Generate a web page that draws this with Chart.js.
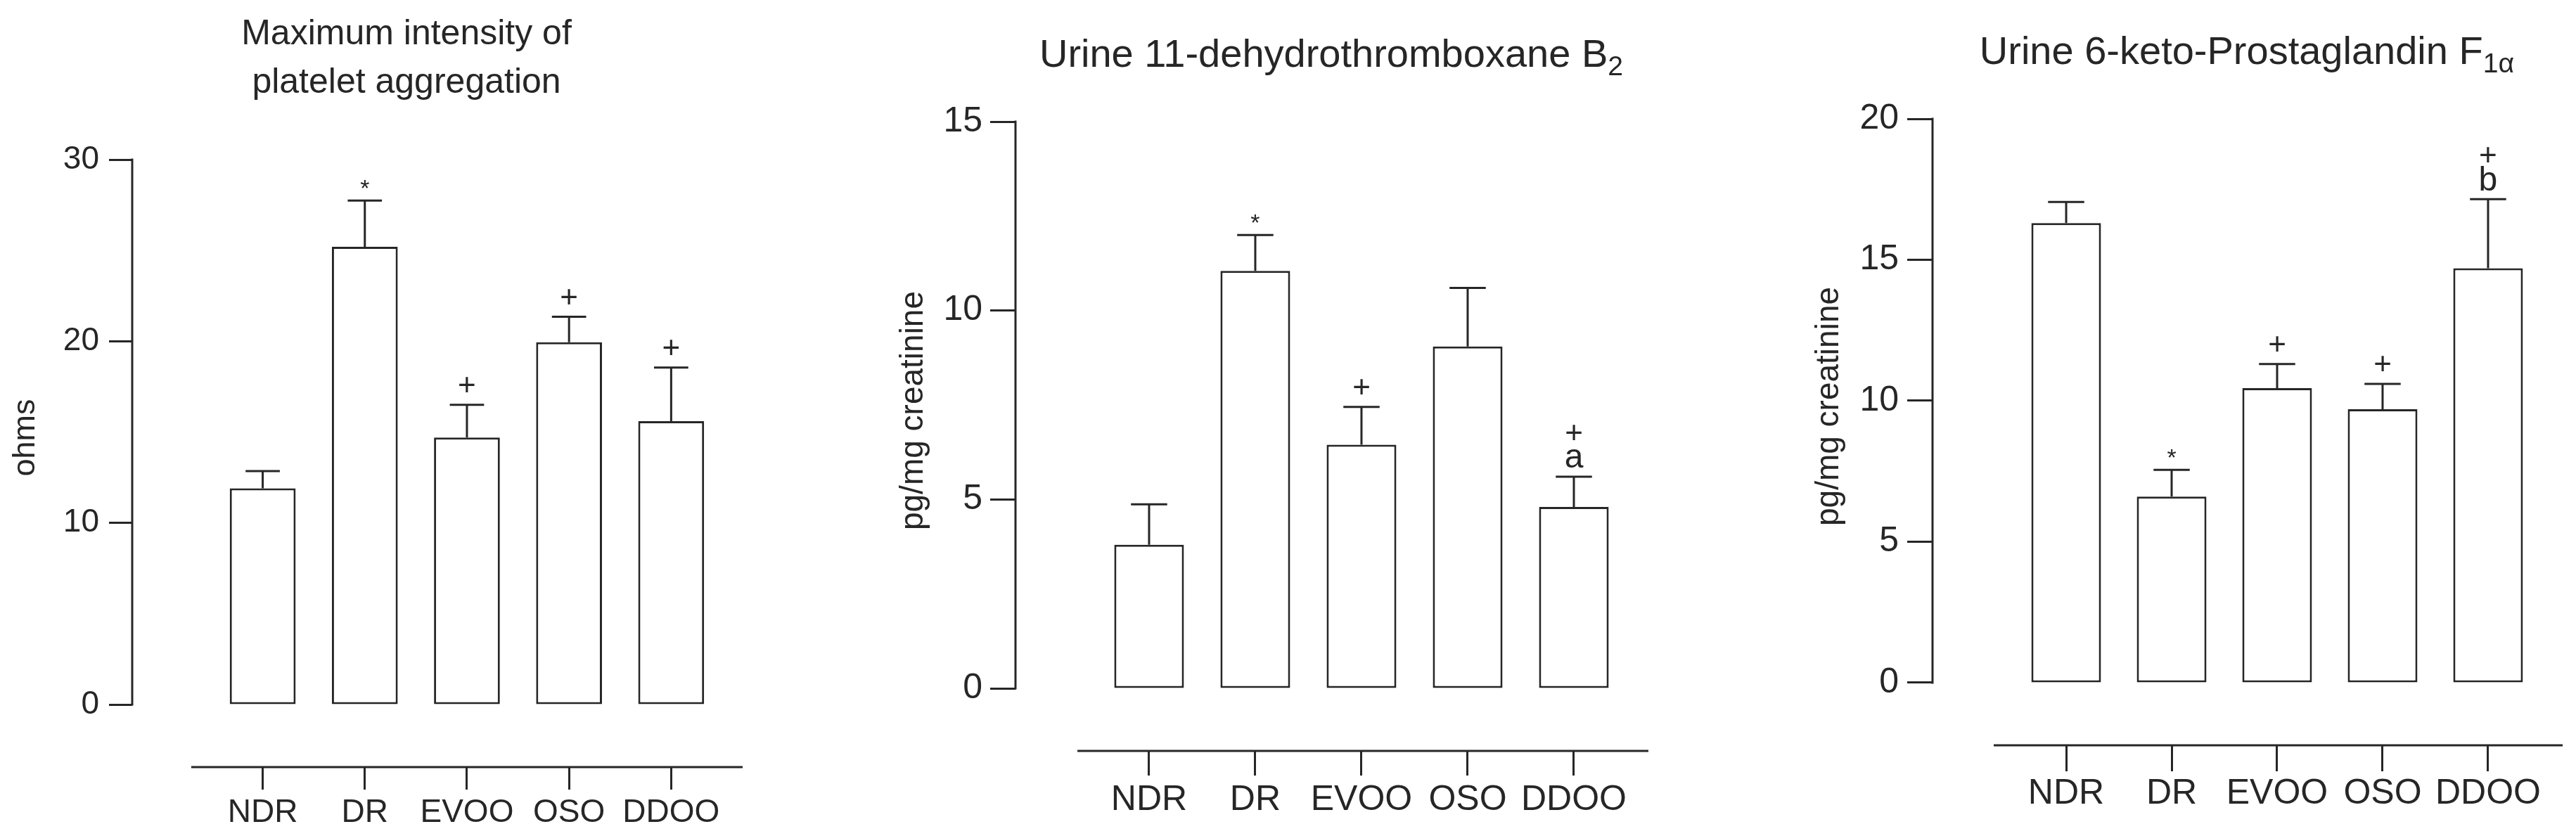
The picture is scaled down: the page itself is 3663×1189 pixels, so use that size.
<!DOCTYPE html>
<html>
<head>
<meta charset="utf-8">
<script src="https://cdn.jsdelivr.net/npm/chart.js@4.4.1/dist/chart.umd.min.js"></script>
<style>
  html, body { margin: 0; padding: 0; background: #fff; }
  #wrap { position: relative; width: 3663px; height: 1189px; }
  .panel { position: absolute; top: 0; width: 1221px; height: 1189px; }
</style>
</head>
<body>
<div id="wrap">
  <div class="panel" style="left:0"><canvas id="c1"></canvas></div>
  <div class="panel" style="left:1221px"><canvas id="c2"></canvas></div>
  <div class="panel" style="left:2442px"><canvas id="c3"></canvas></div>
</div>
<script>
var groups = ['NDR', 'DR', 'EVOO', 'OSO', 'DDOO'];

// maximum intensity of platelet aggregation (ohms)
var aggMean = [11.9, 25.2, 14.7, 19.95, 15.6];
var aggSem = [0.95, 2.55, 1.8, 1.4, 2.95];
var aggMarks = [[], ['*'], ['+'], ['+'], ['+']];
var aggTicks = [0, 10, 20, 30];

// urine 11-dehydrothromboxane B2 (pg/mg creatinine)
var txbMean = [3.8, 11.05, 6.45, 9.05, 4.8];
var txbSem = [1.07, 0.95, 1.0, 1.55, 0.8];
var txbMarks = [[], ['*'], ['+'], [], ['a', '+']];
var txbTicks = [0, 5, 10, 15];

// urine 6-keto-prostaglandin F1alpha (pg/mg creatinine)
var pgiMean = [16.3, 6.6, 10.45, 9.7, 14.7];
var pgiSem = [0.75, 0.95, 0.85, 0.9, 2.45];
var pgiMarks = [[], ['*'], ['+'], ['+'], ['b', '+']];
var pgiTicks = [0, 5, 10, 15, 20];

var ink = '#262626';
var face = "'Liberation Sans', Arial, sans-serif";

// prism-style extras: detached axes, SEM bars, significance marks, titles
var prismPlugin = {
  id: 'prism',
  afterDatasetsDraw: function(chart, args, o) {
    var ctx = chart.ctx, xs = chart.scales.x, ys = chart.scales.y, area = chart.chartArea;
    var meta = chart.getDatasetMeta(0);
    ctx.save();
    ctx.strokeStyle = ink;
    ctx.fillStyle = ink;
    ctx.lineWidth = 3;

    // y axis, only from 0 to the top tick
    ctx.beginPath();
    ctx.moveTo(area.left, ys.getPixelForValue(o.ticks[o.ticks.length - 1]) - 1.5);
    ctx.lineTo(area.left, ys.getPixelForValue(0) + 1.5);
    ctx.stroke();

    // x axis, set below and apart from the y axis
    ctx.beginPath();
    ctx.moveTo(xs.getPixelForValue(o.xStart), area.bottom);
    ctx.lineTo(area.right, area.bottom);
    ctx.stroke();

    o.mean.forEach(function(m, i) {
      var bar = meta.data[i];
      var x = xs.getPixelForValue(i);
      var yb = ys.getPixelForValue(m);
      var yt = ys.getPixelForValue(m + o.sem[i]);
      var cw = bar.width * 0.26;
      ctx.beginPath();
      ctx.moveTo(x, yb);
      ctx.lineTo(x, yt);
      ctx.moveTo(x - cw, yt);
      ctx.lineTo(x + cw, yt);
      ctx.stroke();

      var y = yt - o.markGap;
      o.marks[i].forEach(function(s) {
        var size = s === '*' ? 34 : (s === '+' ? 44 : 48);
        ctx.font = size + 'px ' + face;
        ctx.textAlign = 'center';
        ctx.textBaseline = 'middle';
        ctx.fillText(s, x, y + (s === '*' ? 10 : 0));
        y -= o.markStep;
      });
    });

    // y axis title, centred on the 0..max range
    var ymid = (ys.getPixelForValue(0) + ys.getPixelForValue(o.ticks[o.ticks.length - 1])) / 2 + 8;
    ctx.save();
    ctx.translate(area.left - o.yTitleOff, ymid);
    ctx.rotate(-Math.PI / 2);
    ctx.font = o.yTitleSize + 'px ' + face;
    ctx.textAlign = 'center';
    ctx.textBaseline = 'middle';
    ctx.fillText(o.yTitle, 0, 0);
    ctx.restore();

    // chart title, lines of segments with optional subscript
    ctx.textBaseline = 'alphabetic';
    ctx.textAlign = 'left';
    o.title.forEach(function(line, li) {
      var w = 0;
      line.forEach(function(seg) {
        ctx.font = (seg.sub ? o.titleSize * 0.7 : o.titleSize) + 'px ' + face;
        w += ctx.measureText(seg.text).width;
      });
      var tx = o.titleX - w / 2;
      line.forEach(function(seg) {
        ctx.font = (seg.sub ? o.titleSize * 0.7 : o.titleSize) + 'px ' + face;
        ctx.fillText(seg.text, tx, o.titleY[li] + (seg.sub ? o.titleSize * 0.22 : 0));
        tx += ctx.measureText(seg.text).width;
      });
    });
    ctx.restore();
  }
};

function makePanel(id, p) {
  var points = p.mean.map(function(v, i) { return { x: i, y: v }; });
  return new Chart(document.getElementById(id), {
    type: 'bar',
    data: {
      datasets: [{
        data: points,
        backgroundColor: '#ffffff',
        borderColor: ink,
        borderWidth: 3,
        borderSkipped: false,
        categoryPercentage: 1,
        barPercentage: p.barPct
      }]
    },
    options: {
      responsive: true,
      maintainAspectRatio: false,
      devicePixelRatio: 1,
      animation: false,
      layout: { padding: { top: p.padTop, right: p.padRight, left: 0, bottom: 0 } },
      plugins: {
        legend: { display: false },
        tooltip: { enabled: false },
        prism: {
          mean: p.mean, sem: p.sem, marks: p.marks, ticks: p.ticks,
          xStart: p.xStart, markGap: 26, markStep: 34,
          yTitle: p.yTitle, yTitleSize: p.yTitleSize, yTitleOff: p.yTitleOff,
          title: p.title, titleSize: p.titleSize, titleX: p.titleX, titleY: p.titleY
        }
      },
      scales: {
        x: {
          type: 'linear',
          offset: false,
          bounds: 'data',
          min: p.xMin,
          max: p.xMax,
          afterBuildTicks: function(s) { s.ticks = groups.map(function(g, i) { return { value: i }; }); },
          afterFit: function(s) { s.height = p.xHeight; },
          border: { display: false },
          grid: { display: true, offset: false, drawOnChartArea: false, drawTicks: true,
                  tickLength: p.xTickLen, tickWidth: 3, tickColor: ink },
          ticks: {
            padding: p.xTickPad,
            color: ink,
            font: { family: face, size: p.tickFont },
            maxRotation: 0,
            autoSkip: false,
            callback: function(v, i) { return groups[i]; }
          }
        },
        y: {
          min: p.yMin,
          max: p.ticks[p.ticks.length - 1],
          afterBuildTicks: function(s) { s.ticks = p.ticks.map(function(v) { return { value: v }; }); },
          afterFit: function(s) { s.width = p.yWidth; },
          border: { display: false },
          grid: { display: true, drawOnChartArea: false, drawTicks: true,
                  tickLength: p.yTickLen, tickWidth: 3, tickColor: ink },
          ticks: {
            padding: p.yTickPad,
            color: ink,
            font: { family: face, size: p.tickFont }
          }
        }
      }
    },
    plugins: [prismPlugin]
  });
}

makePanel('c1', {
  mean: aggMean, sem: aggSem, marks: aggMarks, ticks: aggTicks,
  yMin: -3.445, xMin: -1.278, xMax: 4.70, xStart: -0.70,
  padTop: 227, padRight: 165, yWidth: 188, xHeight: 98,
  yTickLen: 33, yTickPad: 14, xTickLen: 32, xTickPad: 6, tickFont: 46, barPct: 0.645,
  yTitle: 'ohms', yTitleSize: 45, yTitleOff: 151,
  title: [[{ text: 'Maximum intensity of' }], [{ text: 'platelet aggregation' }]],
  titleSize: 50, titleX: 578, titleY: [63, 132]
});

makePanel('c2', {
  mean: txbMean, sem: txbSem, marks: txbMarks, ticks: txbTicks,
  yMin: -1.656, xMin: -1.258, xMax: 4.702, xStart: -0.675,
  padTop: 173, padRight: 98, yWidth: 223, xHeight: 121,
  yTickLen: 36, yTickPad: 11, xTickLen: 35, xTickPad: 5, tickFont: 50, barPct: 0.656,
  yTitle: 'pg/mg creatinine', yTitleSize: 46, yTitleOff: 145,
  title: [[{ text: 'Urine 11-dehydrothromboxane B' }, { text: '2', sub: true }]],
  titleSize: 56, titleX: 672, titleY: [95]
});

makePanel('c3', {
  mean: pgiMean, sem: pgiSem, marks: pgiMarks, ticks: pgiTicks,
  yMin: -2.22, xMin: -1.267, xMax: 4.707, xStart: -0.687,
  padTop: 169, padRight: 19, yWidth: 306, xHeight: 129,
  yTickLen: 36, yTickPad: 12, xTickLen: 37, xTickPad: 2, tickFont: 50, barPct: 0.66,
  yTitle: 'pg/mg creatinine', yTitleSize: 46, yTitleOff: 147,
  title: [[{ text: 'Urine 6-keto-Prostaglandin F' }, { text: '1\u03b1', sub: true }]],
  titleSize: 56, titleX: 753, titleY: [91]
});
</script>
</body>
</html>
